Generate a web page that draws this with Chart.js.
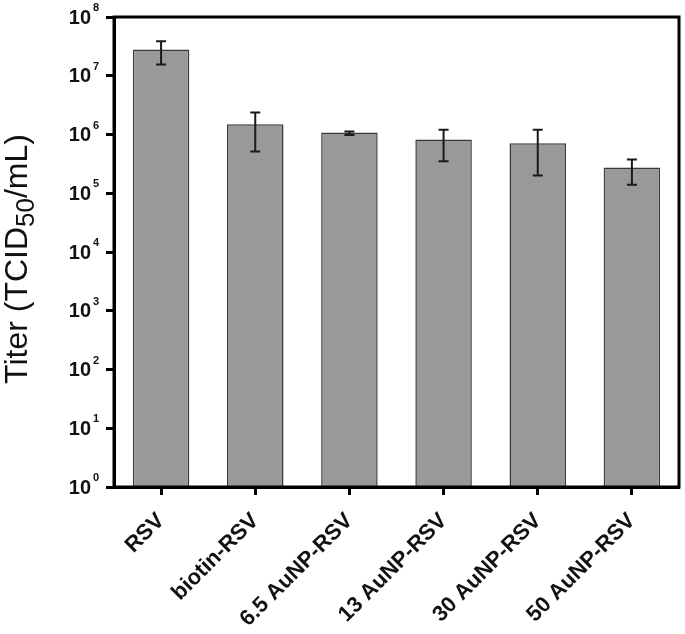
<!DOCTYPE html>
<html>
<head>
<meta charset="utf-8">
<script src="https://cdn.jsdelivr.net/npm/chart.js@4/dist/chart.umd.min.js"></script>
<style>
  html, body { margin: 0; padding: 0; background: #fff; }
  #wrap { width: 685px; height: 634px; }
</style>
</head>
<body>
<div id="wrap"><canvas id="c"></canvas></div>
<script>
// values (TCID50/mL)
const categories = ['RSV', 'biotin-RSV', '6.5 AuNP-RSV', '13 AuNP-RSV', '30 AuNP-RSV', '50 AuNP-RSV'];
const titer   = [2.8e7, 1.49e6, 1.08e6, 8.2e5, 7.1e5, 2.75e5];
const errHigh = [3.85e7, 2.38e6, 1.13e6, 1.2e6, 1.2e6, 3.77e5];
const errLow  = [1.56e7, 5.15e5, 9.8e5, 3.5e5, 2.0e5, 1.39e5];
const yTicks  = [1, 1e1, 1e2, 1e3, 1e4, 1e5, 1e6, 1e7, 1e8];
const yTickExp = ['0', '1', '2', '3', '4', '5', '6', '7', '8'];

const FONT = '"Liberation Sans", Arial, sans-serif';

// error bars, drawn through the scales
const errorBars = {
  id: 'errorBars',
  afterDatasetsDraw(chart) {
    const ctx = chart.ctx, x = chart.scales.x, y = chart.scales.y;
    ctx.save();
    ctx.strokeStyle = '#1a1a1a';
    ctx.lineWidth = 2;
    categories.forEach((c, i) => {
      const px = x.getPixelForValue(i);
      const top = y.getPixelForValue(errHigh[i]);
      const bot = y.getPixelForValue(errLow[i]);
      ctx.beginPath();
      ctx.moveTo(px, top); ctx.lineTo(px, bot);
      ctx.moveTo(px - 5, top); ctx.lineTo(px + 5, top);
      ctx.moveTo(px - 5, bot); ctx.lineTo(px + 5, bot);
      ctx.stroke();
    });
    ctx.restore();
  }
};

// frame, power-of-ten labels and the axis title with subscript
const decorations = {
  id: 'decorations',
  afterDraw(chart) {
    const ctx = chart.ctx, a = chart.chartArea, y = chart.scales.y;
    ctx.save();
    ctx.strokeStyle = '#000';
    ctx.lineWidth = 3;
    ctx.strokeRect(a.left, a.top, a.right - a.left, a.bottom - a.top);

    ctx.fillStyle = '#111';
    yTicks.forEach((v, i) => {
      const py = y.getPixelForValue(v);
      ctx.font = 'bold 20px ' + FONT;
      ctx.textAlign = 'right';
      ctx.textBaseline = 'middle';
      ctx.fillText('10', a.left - 23, py + 1);
      ctx.font = 'bold 11px ' + FONT;
      ctx.textAlign = 'left';
      ctx.fillText(yTickExp[i], a.left - 21, py - 9);
    });

    // y title
    const main1 = 'Titer (TCID', sub = '50', main2 = '/mL)';
    const big = '32px ' + FONT, small = '26px ' + FONT;
    ctx.font = big;
    const w1 = ctx.measureText(main1).width, w2 = ctx.measureText(main2).width;
    ctx.font = small;
    const ws = ctx.measureText(sub).width;
    const total = w1 + ws + w2;
    ctx.translate(27, 259);
    ctx.rotate(-Math.PI / 2);
    ctx.textAlign = 'left';
    ctx.textBaseline = 'alphabetic';
    let cx = -total / 2;
    ctx.font = big; ctx.fillText(main1, cx, 0); cx += w1;
    ctx.font = small; ctx.fillText(sub, cx, 7); cx += ws;
    ctx.font = big; ctx.fillText(main2, cx, 0);
    ctx.restore();
  }
};

new Chart(document.getElementById('c'), {
  type: 'bar',
  data: {
    labels: categories,
    datasets: [{
      data: titer,
      backgroundColor: '#999999',
      borderColor: '#3a3a3a',
      borderWidth: 1.5,
      barPercentage: 0.6,
      categoryPercentage: 1.0
    }]
  },
  options: {
    responsive: true,
    maintainAspectRatio: false,
    animation: false,
    layout: { padding: { top: 17, right: 6, left: 0, bottom: 0 } },
    plugins: { legend: { display: false }, tooltip: { enabled: false } },
    scales: {
      x: {
        grid: { display: true, drawOnChartArea: false, offset: false, tickLength: 8, tickWidth: 3, tickColor: '#000' },
        border: { display: true, color: '#000', width: 3 },
        ticks: {
          color: '#111',
          font: { family: FONT, size: 22, weight: 'bold' },
          minRotation: 45, maxRotation: 45, padding: 13
        },
        afterFit(scale) { scale.height = 147; }
      },
      y: {
        type: 'logarithmic',
        min: 1, max: 1e8,
        afterBuildTicks(scale) { scale.ticks = yTicks.map(v => ({ value: v })); },
        grid: { display: true, drawOnChartArea: false, tickLength: 8, tickWidth: 3, tickColor: '#000' },
        border: { display: true, color: '#000', width: 3 },
        ticks: { display: false },
        afterFit(scale) { scale.width = 114; }
      }
    }
  },
  plugins: [errorBars, decorations]
});
</script>
</body>
</html>
